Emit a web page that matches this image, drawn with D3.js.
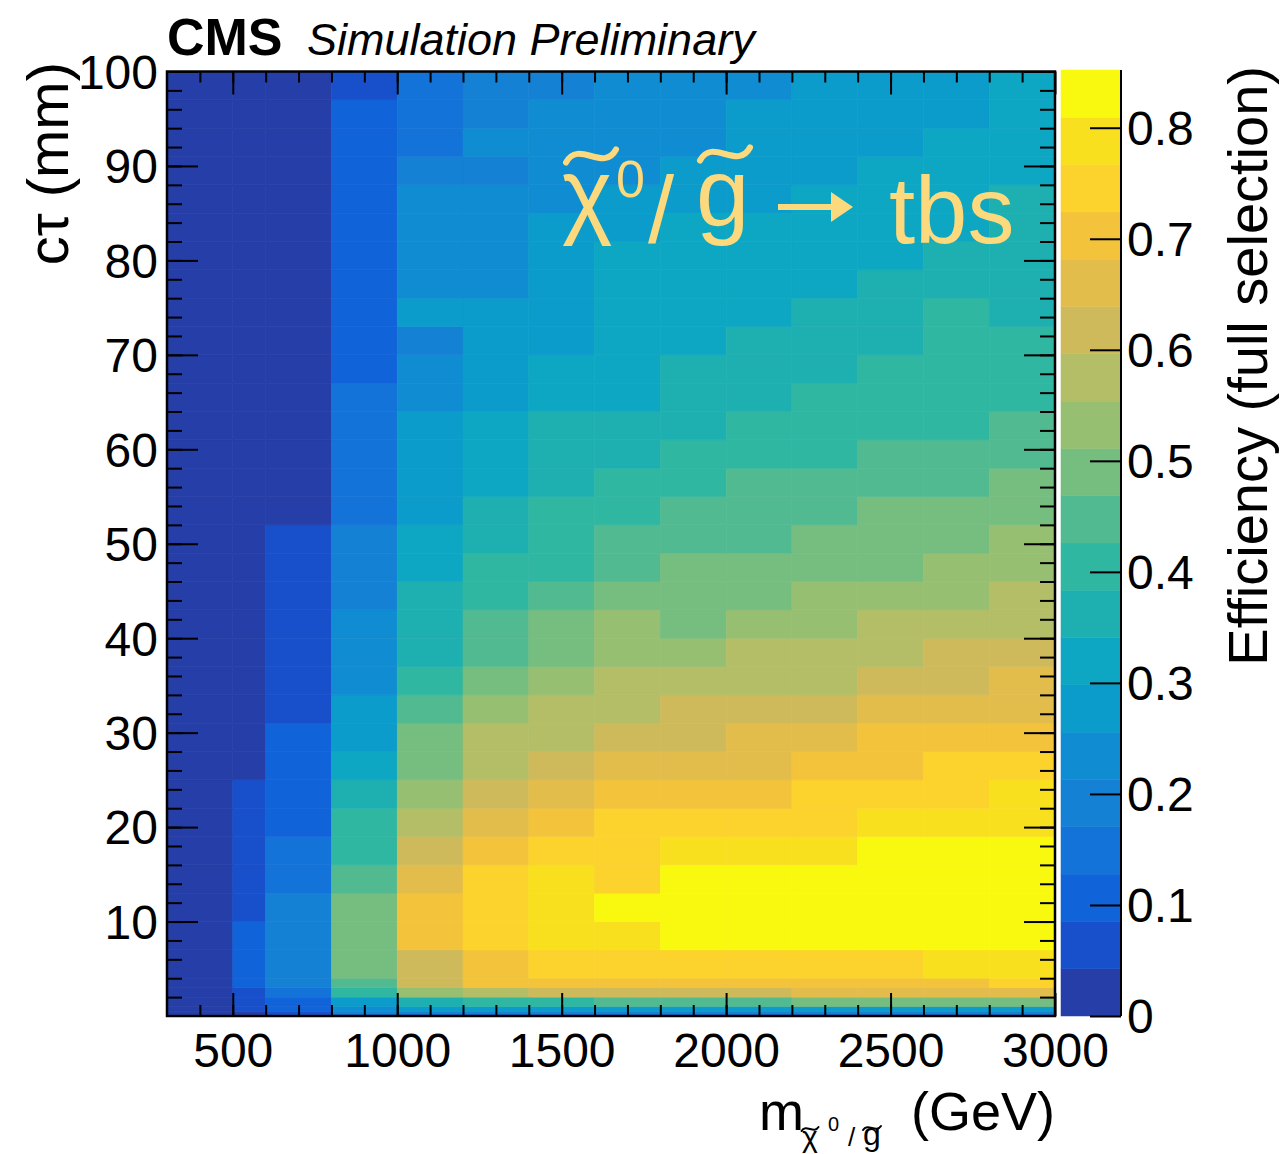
<!DOCTYPE html>
<html>
<head>
<meta charset="utf-8">
<script src="https://cdn.jsdelivr.net/npm/d3@7"></script>
<style>
  body { margin: 0; background: #fff; }
  svg text { font-family: "Liberation Sans", Arial, Helvetica, sans-serif; }
</style>
</head>
<body>
<svg id="chart" width="1280" height="1154"></svg>
<script>
// bin edges (GeV and mm)
var massEdges = [300, 500, 600, 800, 1000, 1200, 1400, 1600, 1800, 2000, 2200, 2400, 2600, 2800, 3000];
var ctEdges = [0, 0.2, 0.5, 1, 2, 3, 4, 7, 10, 13, 16, 19, 22, 25, 28, 31, 34, 37, 40, 43, 46,
               49, 52, 55, 58, 61, 64, 67, 70, 73, 76, 79, 82, 85, 88, 91, 94, 97, 100];

// efficiency per mass bin, ordered from lowest ctau bin to highest
var m400 = [0.01,0.01,0.01,0.01,0.02,0.02,
  0.02,0.02,0.02,0.02,0.02,0.02,0.02,0.02, 0.02,0.02,0.02,0.02,0.02,0.02,0.02,0.02,
  0.02,0.02,0.02,0.02,0.02,0.02,0.02,0.02, 0.02,0.02,0.02,0.02,0.02,0.02,0.02,0.02];
var m550 = [0.02,0.02,0.06,0.06,0.06,0.11,
  0.11,0.11,0.06,0.06,0.06,0.06,0.06,0.02, 0.02,0.02,0.02,0.02,0.02,0.02,0.02,0.02,
  0.02,0.02,0.02,0.02,0.02,0.02,0.02,0.02, 0.02,0.02,0.02,0.02,0.02,0.02,0.02,0.02];
var m700 = [0.06,0.06,0.11,0.11,0.15,0.19,
  0.19,0.19,0.19,0.15,0.15,0.11,0.11,0.11, 0.11,0.06,0.06,0.06,0.06,0.06,0.06,0.06,
  0.02,0.02,0.02,0.02,0.02,0.02,0.02,0.02, 0.02,0.02,0.02,0.02,0.02,0.02,0.02,0.02];
var m900 = [0.11,0.19,0.23,0.28,0.40,0.45,
  0.49,0.49,0.49,0.45,0.40,0.40,0.36,0.32, 0.28,0.28,0.23,0.23,0.23,0.19,0.19,0.19,
  0.15,0.15,0.15,0.15,0.15,0.11,0.11,0.11, 0.11,0.11,0.11,0.11,0.11,0.11,0.11,0.06];
var m1100 = [0.11,0.19,0.28,0.36,0.53,0.62,
  0.62,0.70,0.70,0.66,0.62,0.57,0.53,0.49, 0.49,0.45,0.40,0.36,0.36,0.36,0.32,0.32,
  0.28,0.28,0.28,0.28,0.23,0.23,0.19,0.28, 0.23,0.23,0.23,0.23,0.19,0.15,0.15,0.15];
var m1300 = [0.11,0.19,0.28,0.40,0.57,0.70,
  0.70,0.75,0.75,0.75,0.70,0.66,0.62,0.57, 0.57,0.53,0.49,0.45,0.45,0.40,0.40,0.36,
  0.36,0.32,0.32,0.32,0.28,0.28,0.28,0.28, 0.23,0.23,0.23,0.23,0.19,0.23,0.19,0.19];
var m1500 = [0.11,0.19,0.28,0.40,0.62,0.70,
  0.75,0.79,0.79,0.79,0.75,0.70,0.66,0.62, 0.57,0.57,0.53,0.49,0.49,0.45,0.40,0.40,
  0.40,0.36,0.36,0.36,0.32,0.32,0.28,0.28, 0.28,0.28,0.28,0.23,0.23,0.23,0.23,0.19];
var m1700 = [0.11,0.19,0.28,0.45,0.62,0.70,
  0.75,0.79,0.83,0.75,0.75,0.75,0.70,0.66, 0.62,0.57,0.57,0.53,0.53,0.49,0.45,0.45,
  0.40,0.40,0.36,0.36,0.32,0.32,0.32,0.32, 0.32,0.32,0.28,0.28,0.23,0.23,0.23,0.23];
var m1900 = [0.11,0.19,0.28,0.45,0.62,0.70,
  0.75,0.83,0.83,0.83,0.79,0.75,0.70,0.66, 0.62,0.62,0.57,0.53,0.49,0.49,0.49,0.45,
  0.45,0.40,0.40,0.36,0.36,0.36,0.32,0.32, 0.32,0.32,0.32,0.28,0.28,0.23,0.23,0.23];
var m2100 = [0.11,0.19,0.28,0.45,0.62,0.70,
  0.75,0.83,0.83,0.83,0.79,0.75,0.70,0.66, 0.66,0.62,0.57,0.57,0.53,0.49,0.49,0.45,
  0.45,0.45,0.40,0.40,0.36,0.36,0.36,0.32, 0.32,0.32,0.32,0.28,0.28,0.28,0.28,0.23];
var m2300 = [0.11,0.19,0.28,0.49,0.66,0.70,
  0.75,0.83,0.83,0.83,0.79,0.75,0.75,0.70, 0.66,0.62,0.57,0.57,0.53,0.53,0.49,0.49,
  0.45,0.45,0.40,0.40,0.40,0.36,0.36,0.36, 0.32,0.32,0.32,0.32,0.28,0.28,0.28,0.28];
var m2500 = [0.11,0.19,0.28,0.49,0.66,0.70,
  0.75,0.83,0.83,0.83,0.83,0.79,0.75,0.70, 0.70,0.66,0.62,0.57,0.57,0.53,0.49,0.49,
  0.49,0.45,0.45,0.40,0.40,0.40,0.36,0.36, 0.36,0.32,0.32,0.32,0.32,0.28,0.28,0.28];
var m2700 = [0.11,0.19,0.28,0.49,0.66,0.70,
  0.79,0.83,0.83,0.83,0.83,0.79,0.75,0.75, 0.70,0.66,0.62,0.62,0.57,0.53,0.53,0.49,
  0.49,0.45,0.45,0.40,0.40,0.40,0.40,0.40, 0.36,0.36,0.32,0.32,0.32,0.32,0.28,0.28];
var m2900 = [0.11,0.19,0.28,0.49,0.66,0.75,
  0.79,0.83,0.83,0.83,0.83,0.79,0.79,0.75, 0.70,0.66,0.66,0.62,0.57,0.57,0.53,0.53,
  0.49,0.49,0.45,0.45,0.40,0.40,0.40,0.36, 0.36,0.36,0.36,0.36,0.32,0.32,0.32,0.32];

var effColumns = [m400, m550, m700, m900, m1100, m1300, m1500, m1700, m1900, m2100, m2300, m2500, m2700, m2900];

var xTicks = [500, 1000, 1500, 2000, 2500, 3000];
var yTicks = [10, 20, 30, 40, 50, 60, 70, 80, 90, 100];
var zTicks = [0, 0.1, 0.2, 0.3, 0.4, 0.5, 0.6, 0.7, 0.8];
var zMax = 0.852;

// 20 colour contours (ROOT bird-like)
var palette = ["#263ea8","#1850cc","#1163da","#1473d9","#1581d5","#108dd2","#0b9ccb","#0da7c3","#1eb0b0","#2fb7a2",
               "#52ba91","#76bd80","#97bf72","#b3be67","#cfba5b","#e3bd4c","#f2c33b","#fcd22c","#f9e01f","#f9f90f"];

var svg = d3.select("#chart");
var pLeft = 167, pRight = 1055, pTop = 71.5, pBottom = 1016;

var x = d3.scaleLinear().domain([300, 3000]).range([pLeft, pRight]);
var y = d3.scaleLinear().domain([0, 100]).range([pBottom, pTop]);
var color = d3.scaleQuantize().domain([0, zMax]).range(palette);

// cells
var cells = [];
effColumns.forEach(function (col, i) {
  col.forEach(function (v, j) {
    cells.push({x0: massEdges[i], x1: massEdges[i + 1], y0: ctEdges[j], y1: ctEdges[j + 1], v: v});
  });
});

svg.append("g").selectAll("rect")
  .data(cells)
  .enter().append("rect")
  .attr("x", function (d) { return x(d.x0); })
  .attr("y", function (d) { return y(d.y1); })
  .attr("width", function (d) { return x(d.x1) - x(d.x0); })
  .attr("height", function (d) { return y(d.y0) - y(d.y1); })
  .attr("fill", function (d) { return color(d.v); })
  .attr("stroke", function (d) { return color(d.v); })
  .attr("stroke-width", 0.6);

// axes with inward ticks, ROOT style
function styleAxis(g) {
  g.select(".domain").remove();
  g.selectAll("line").attr("stroke", "#000").attr("stroke-width", 2);
  g.selectAll("text").attr("fill", "#000").style("font-size", "48px");
}

var xMinor = d3.range(400, 3000, 100);
var yMinor = d3.range(2, 100, 2);

svg.append("g").attr("transform", "translate(0," + pBottom + ")")
  .call(d3.axisBottom(x).tickValues(xMinor).tickSize(-11).tickFormat(""))
  .call(styleAxis);
svg.append("g").attr("transform", "translate(0," + pBottom + ")")
  .call(d3.axisBottom(x).tickValues(xTicks).tickSize(-23).tickPadding(17).tickFormat(d3.format("d")))
  .call(styleAxis);
svg.append("g").attr("transform", "translate(0," + pTop + ")")
  .call(d3.axisTop(x).tickValues(xMinor).tickSize(-11).tickFormat(""))
  .call(styleAxis);
svg.append("g").attr("transform", "translate(0," + pTop + ")")
  .call(d3.axisTop(x).tickValues(xTicks).tickSize(-23).tickFormat(""))
  .call(styleAxis);

svg.append("g").attr("transform", "translate(" + pLeft + ",0)")
  .call(d3.axisLeft(y).tickValues(yMinor).tickSize(-15).tickFormat(""))
  .call(styleAxis);
svg.append("g").attr("transform", "translate(" + pLeft + ",0)")
  .call(d3.axisLeft(y).tickValues(yTicks).tickSize(-31).tickPadding(9))
  .call(styleAxis)
  .selectAll("text").attr("dy", "0.35em");
svg.append("g").attr("transform", "translate(" + pRight + ",0)")
  .call(d3.axisRight(y).tickValues(yMinor).tickSize(-15).tickFormat(""))
  .call(styleAxis);
svg.append("g").attr("transform", "translate(" + pRight + ",0)")
  .call(d3.axisRight(y).tickValues(yTicks).tickSize(-31).tickFormat(""))
  .call(styleAxis);

// frame
svg.append("rect")
  .attr("x", pLeft).attr("y", pTop)
  .attr("width", pRight - pLeft).attr("height", pBottom - pTop)
  .attr("fill", "none").attr("stroke", "#000").attr("stroke-width", 2.5);

// colour bar
var zLeft = 1061, zRight = 1121;
var z = d3.scaleLinear().domain([0, zMax]).range([pBottom, 70]);
var bands = palette.map(function (c, i) {
  return {lo: i * zMax / palette.length, hi: (i + 1) * zMax / palette.length, c: c};
});
svg.append("g").selectAll("rect")
  .data(bands)
  .enter().append("rect")
  .attr("x", zLeft)
  .attr("width", zRight - zLeft)
  .attr("y", function (d) { return z(d.hi); })
  .attr("height", function (d) { return z(d.lo) - z(d.hi); })
  .attr("fill", function (d) { return d.c; })
  .attr("stroke", function (d) { return d.c; })
  .attr("stroke-width", 0.5);

svg.append("g").attr("transform", "translate(" + zRight + ",0)")
  .call(d3.axisRight(z).tickValues(zTicks).tickSize(-31).tickPadding(6).tickFormat(d3.format("")))
  .call(styleAxis)
  .selectAll("text").attr("dy", "0.35em");
svg.append("line")
  .attr("x1", zRight).attr("x2", zRight).attr("y1", 70).attr("y2", pBottom)
  .attr("stroke", "#000").attr("stroke-width", 2);

// titles
svg.append("text").attr("x", 167).attr("y", 55)
  .style("font-size", "52px").style("font-weight", "bold").text("CMS");
svg.append("text").attr("x", 307).attr("y", 55)
  .style("font-size", "45px").style("font-style", "italic").text("Simulation Preliminary");

svg.append("text")
  .attr("transform", "translate(68,62) rotate(-90)")
  .attr("text-anchor", "end")
  .style("font-size", "58px")
  .text("cτ (mm)");

svg.append("text")
  .attr("transform", "translate(1267,66) rotate(-90)")
  .attr("text-anchor", "end")
  .style("font-size", "56px")
  .text("Efficiency (full selection)");

function tilde(g, cx, cy, w, h, sw, col) {
  g.append("path")
    .attr("d", "M" + (cx - w / 2) + "," + (cy + h / 2) +
      " C" + (cx - w / 4) + "," + (cy - h * 1.3) + " " + (cx + w / 4) + "," + (cy + h * 1.3) +
      " " + (cx + w / 2) + "," + (cy - h / 2))
    .attr("fill", "none").attr("stroke", col).attr("stroke-width", sw)
    .attr("stroke-linecap", "round");
}

// x-axis title
var xt = svg.append("g");
xt.append("text").attr("x", 759).attr("y", 1130).style("font-size", "54px").text("m");
xt.append("text").attr("x", 802).attr("y", 1147).style("font-size", "30px").text("χ");
tilde(xt, 810, 1129, 17, 4, 2, "#000");
xt.append("text").attr("x", 828).attr("y", 1131).style("font-size", "20px").text("0");
xt.append("text").attr("x", 848).attr("y", 1146).style("font-size", "26px").text("/");
xt.append("text").attr("x", 863).attr("y", 1145).style("font-size", "32px").text("g");
tilde(xt, 872, 1128, 18, 4, 2, "#000");
xt.append("text").attr("x", 1055).attr("y", 1130).attr("text-anchor", "end")
  .style("font-size", "54px").text("(GeV)");

// process label
var lab = "#fdd97e";
var pl = svg.append("g").attr("fill", lab);
pl.append("text").attr("x", 562).attr("y", 226).style("font-size", "96px").text("χ");
tilde(pl, 591, 156, 50, 13, 6, lab);
pl.append("text").attr("x", 616).attr("y", 197).style("font-size", "52px").text("0");
pl.append("text").attr("x", 648).attr("y", 243).style("font-size", "94px").text("/");
pl.append("text").attr("x", 696).attr("y", 226).style("font-size", "96px").text("g");
tilde(pl, 725, 154, 50, 13, 6, lab);
pl.append("line").attr("x1", 778).attr("x2", 840).attr("y1", 207).attr("y2", 207)
  .attr("stroke", lab).attr("stroke-width", 6);
pl.append("path").attr("d", "M853,207 L831,192 L831,222 Z").attr("fill", lab);
pl.append("text").attr("x", 889).attr("y", 243).style("font-size", "94px").text("tbs");
</script>
</body>
</html>
